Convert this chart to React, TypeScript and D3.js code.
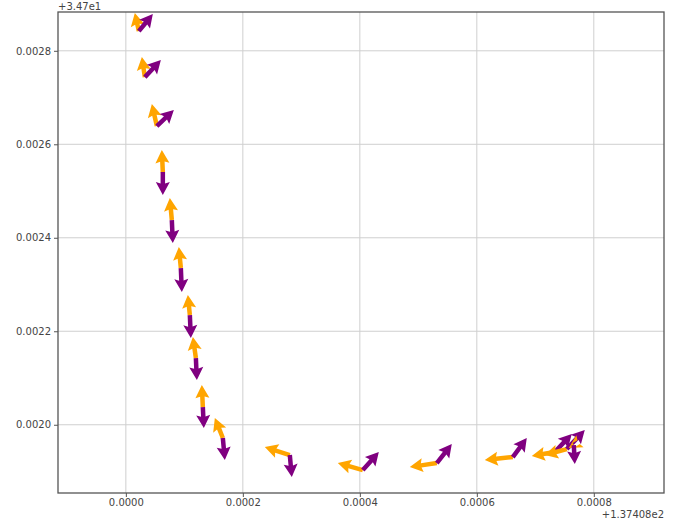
import * as d3 from 'd3';
import React, { useRef, useEffect } from 'react';

// positions are offsets: x + 137.408, y + 34.7
const xs = [0.0000222, 0.0000325, 0.0000530, 0.0000632, 0.0000786, 0.0000940, 0.0001094, 0.0001197, 0.0001316, 0.0001658, 0.0002803, 0.0004051, 0.0005316, 0.0006615, 0.0007333, 0.0007538, 0.0007658];
const ys = [0.0028421, 0.0027437, 0.0026389, 0.0025405, 0.0024379, 0.0023352, 0.0022347, 0.0021427, 0.0020379, 0.0019716, 0.0019352, 0.0019031, 0.0019181, 0.0019309, 0.0019416, 0.0019480, 0.0019566];

// orange arrows (u, v)
const u1 = [-0.04, -0.03, -0.05, -0.01, -0.02, -0.02, -0.02, -0.03, -0.01, -0.08, -0.25, -0.25, -0.27, -0.28, -0.23, -0.22, -0.05];
const v1 = [0.18, 0.20, 0.22, 0.22, 0.22, 0.21, 0.20, 0.21, 0.22, 0.20, 0.08, 0.07, -0.04, -0.03, -0.04, -0.06, -0.03];

// purple arrows (u, v)
const u2 = [0.14, 0.16, 0.17, 0.00, 0.01, 0.01, 0.01, 0.01, 0.01, 0.02, 0.02, 0.16, 0.15, 0.14, 0.17, 0.18, 0.01];
const v2 = [0.17, 0.17, 0.16, -0.23, -0.23, -0.24, -0.23, -0.22, -0.21, -0.22, -0.22, 0.18, 0.19, 0.19, 0.18, 0.19, -0.19];

const xTicks = [0.0000, 0.0002, 0.0004, 0.0006, 0.0008];
const yTicks = [0.0020, 0.0022, 0.0024, 0.0026, 0.0028];

const width = 683;
const height = 522;
const margin = { left: 58, right: 19, top: 12, bottom: 29 };

function QuiverChart() {
  const ref = useRef(null);

  useEffect(() => {
    draw();
  }, []);

  const draw = () => {
    const svg = d3.select(ref.current);
    svg.selectAll('*').remove();

    const x = d3.scaleLinear()
      .domain([-0.000116, 0.00092])
      .range([margin.left, width - margin.right]);
    const y = d3.scaleLinear()
      .domain([0.001854, 0.002883])
      .range([height - margin.bottom, margin.top]);

    const fmt = d3.format('.4f');
    const font = 'DejaVu Sans, sans-serif';

    // grid
    svg.append('g').selectAll('line').data(xTicks).enter().append('line')
      .attr('x1', d => x(d)).attr('x2', d => x(d))
      .attr('y1', margin.top).attr('y2', height - margin.bottom)
      .attr('stroke', '#cfcfcf').attr('stroke-width', 1);
    svg.append('g').selectAll('line').data(yTicks).enter().append('line')
      .attr('x1', margin.left).attr('x2', width - margin.right)
      .attr('y1', d => y(d)).attr('y2', d => y(d))
      .attr('stroke', '#cfcfcf').attr('stroke-width', 1);

    // axes
    const xAxis = svg.append('g')
      .attr('transform', `translate(0, ${height - margin.bottom})`)
      .call(d3.axisBottom(x).tickValues(xTicks).tickFormat(fmt).tickSize(4).tickSizeOuter(0));
    const yAxis = svg.append('g')
      .attr('transform', `translate(${margin.left}, 0)`)
      .call(d3.axisLeft(y).tickValues(yTicks).tickFormat(fmt).tickSize(4).tickSizeOuter(0));
    [xAxis, yAxis].forEach(a => {
      a.select('.domain').remove();
      a.selectAll('line').attr('stroke', '#555');
      a.selectAll('text').attr('fill', '#444').style('font-family', font).style('font-size', '10px');
    });
    xAxis.selectAll('text').attr('y', 6);
    yAxis.selectAll('text').attr('x', -7);

    // arrows
    const w = 4.5, hw = 14, hl = 13, hal = 11.5, scale = 100;
    const arrow = (px, py, u, v) => {
      const dx = u * scale, dy = -v * scale;
      const L = Math.hypot(dx, dy);
      const a = Math.atan2(dy, dx);
      const c = Math.cos(a), s = Math.sin(a);
      const pts = [[0, -w / 2], [L - hal, -w / 2], [L - hl, -hw / 2], [L, 0], [L - hl, hw / 2], [L - hal, w / 2], [0, w / 2]];
      return d3.line()(pts.map(([ax, ay]) => [px + ax * c - ay * s, py + ax * s + ay * c])) + 'Z';
    };

    const idx = d3.range(xs.length);
    const arrows = svg.append('g');
    idx.forEach(i => {
      arrows.append('path')
        .attr('d', arrow(x(xs[i]), y(ys[i]), u1[i], v1[i]))
        .attr('fill', 'orange');
      arrows.append('path')
        .attr('d', arrow(x(xs[i]), y(ys[i]), u2[i], v2[i]))
        .attr('fill', 'purple');
    });

    // frame
    svg.append('rect')
      .attr('x', margin.left).attr('y', margin.top)
      .attr('width', width - margin.left - margin.right)
      .attr('height', height - margin.top - margin.bottom)
      .attr('fill', 'none').attr('stroke', '#555').attr('stroke-width', 1.3);

    // offset texts
    svg.append('text')
      .attr('x', margin.left).attr('y', 9.5)
      .attr('fill', '#444').style('font-family', font).style('font-size', '10px')
      .text('+3.47e1');
    svg.append('text')
      .attr('x', width - margin.right).attr('y', 518)
      .attr('text-anchor', 'end')
      .attr('fill', '#444').style('font-family', font).style('font-size', '10px')
      .text('+1.37408e2');
  };

  return (
    <svg ref={ref} width={width} height={height} style={{ position: 'absolute', left: 0, top: 0, background: '#fff' }}>
    </svg>
  );
}

export default function App() {
  return <QuiverChart />;
}
